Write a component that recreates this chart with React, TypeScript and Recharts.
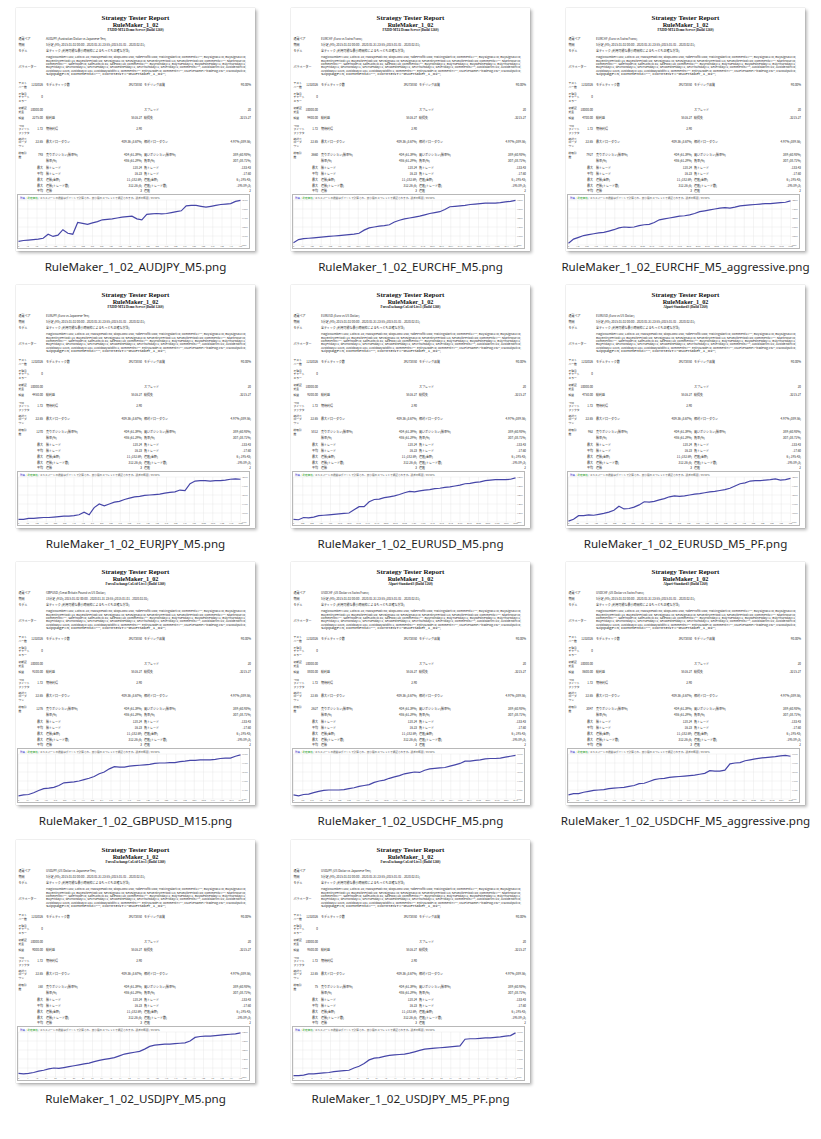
import { LineChart, Line, XAxis, YAxis, CartesianGrid } from "recharts";

// balance curves (evenly spaced samples, left to right)
const audjpyBalance = [
  10000, 10050, 10075, 10100, 10125, 10175, 10400, 10275, 10350, 10650, 10450, 10400, 11050, 11000, 10950, 11025,
  11100, 11200, 11225, 11250, 11300, 11350, 11375, 11400, 11250, 11200, 11500, 11525, 11550, 11525, 11550, 11600,
  11650, 11700, 11975, 12000, 12000, 11950, 11900, 11950, 12000, 12050, 12075, 12100, 12225, 12275,
];
const eurchfBalance = [
  10000, 10700, 10900, 11000, 11100, 11200, 11300, 11400, 11500, 11600, 11700, 11800, 11900, 12100, 12800, 13300,
  13500, 13700, 13800, 14000, 14600, 15000, 15300, 15500, 15700, 15900, 16200, 16500, 16700, 16900, 17400, 18000,
  18100, 18200, 18300, 18500, 18600, 18700, 18800, 18800, 18800, 18900, 19100, 19200, 19400,
];
const eurchfAggrBalance = [
  10000, 10450, 10650, 10850, 10950, 11050, 11150, 11200, 11350, 11500, 11700, 11800, 11750, 11800, 11950, 12050,
  12100, 12300, 12600, 12700, 12800, 12900, 13000, 13050, 13150, 13300, 13500, 13600, 13700, 13800, 13900, 13950,
  13900, 14000, 14150, 14200, 14250, 14300, 14350, 14400, 14400, 14450, 14500, 14550, 14700,
];
const eurjpyBalance = [
  10000, 10000, 10100, 10100, 10150, 10200, 10200, 10250, 10300, 10350, 10350, 10400, 10500, 10800, 10500, 11300,
  11700, 11500, 11700, 11900, 12000, 12200, 12350, 12500, 12550, 12650, 12700, 12750, 12800, 12900, 13000, 13050,
  13250, 13200, 13950, 14250, 14300, 14300, 14250, 14300, 14300, 14350, 14450, 14500, 14450,
];
const eurusdBalance = [
  10000, 9900, 10400, 10300, 10500, 10800, 10900, 11000, 11100, 11200, 11300, 11400, 12100, 12800, 12800, 13900,
  14400, 14500, 14800, 15000, 15200, 15500, 15900, 16200, 16100, 16300, 16500, 16600, 16800, 16900, 17100, 17200,
  17400, 17600, 17900, 18000, 18200, 18300, 18600, 18700, 18800, 18800, 18800, 18900, 19200,
];
const eurusdPfBalance = [
  10000, 10200, 10600, 10600, 10700, 10650, 10750, 10850, 11000, 11200, 11650, 11350, 11400, 11550, 11800, 12150,
  12100, 12200, 12350, 12500, 12700, 12800, 12750, 12800, 12900, 13000, 13050, 13150, 13250, 13300, 13400, 13500,
  13650, 13900, 14150, 14250, 14450, 14500, 14500, 14550, 14600, 14700, 14550, 14600, 14750,
];
const gbpusdBalance = [
  10000, 10200, 10300, 10700, 11200, 11600, 11700, 11900, 12300, 12900, 13000, 13100, 13300, 13600, 13900, 14300,
  14900, 15300, 16000, 16500, 16400, 16400, 16600, 16700, 16800, 16900, 17000, 17200, 17300, 17300, 17400, 17400,
  17600, 17700, 17900, 17900, 18000, 18000, 18000, 18100, 18300, 18400, 18400, 18800, 19100,
];
const usdchfBalance = [
  10000, 9800, 10100, 10200, 10500, 10800, 11000, 11100, 11100, 11100, 11200, 11400, 11600, 11900, 12100, 12300,
  12800, 13100, 13300, 13700, 14000, 14300, 14700, 14900, 15100, 15000, 15500, 15800, 15900, 16000, 16100, 16400,
  16700, 17000, 17500, 17500, 17700, 17800, 18000, 18100, 18100, 18200, 18400, 18600, 18800,
];
const usdchfAggrBalance = [
  10000, 10300, 10300, 10600, 10800, 11000, 11100, 11200, 11400, 11500, 11600, 11700, 11900, 12100, 12500, 12600,
  13000, 13400, 13600, 13700, 13900, 14000, 14100, 14200, 14300, 14400, 14600, 14800, 15400, 15300, 15300, 15500,
  16900, 17100, 17200, 17600, 17800, 18000, 18200, 18300, 18400, 18500, 18700, 18800, 18600,
];
const usdjpyBalance = [
  10000, 9900, 10000, 10200, 10500, 10700, 11000, 11200, 11100, 11300, 11500, 11700, 11900, 12100, 12300, 12600,
  12900, 13100, 13300, 13500, 13900, 14300, 14500, 14700, 14900, 15400, 16000, 16300, 16400, 16500, 16500, 16600,
  16700, 16800, 17200, 18000, 18200, 18300, 18300, 18400, 18500, 18600, 18700, 18800, 19000,
];
const usdjpyPfBalance = [
  10000, 10000, 10100, 10400, 10400, 10500, 10600, 10700, 10900, 11000, 11100, 11200, 11700, 12100, 12700, 13500,
  13900, 14000, 14300, 14500, 14600, 14700, 14800, 15000, 15300, 15600, 15900, 16000, 16100, 16200, 16300, 16400,
  16500, 16600, 18100, 18200, 18200, 18300, 18400, 18400, 18500, 18600, 18800, 18900, 19500,
];

const FXDD = "FXDD-MT4 Demo Server (Build 1260)";
const FXCL = "ForexExchangeCoLtd-Live1 (Build 1260)";
const ALPARI = "Alpari-Standard3 (Build 1260)";

const reports = [
  { file: "RuleMaker_1_02_AUDJPY_M5.png", symbol: "AUDJPY (Australian Dollar vs Japanese Yen)", server: FXDD, tf: "5分足 (M5)", trades: 793, xStep: 32, yTicks: [9800, 10300, 10800, 11300, 11800, 12300], balance: audjpyBalance },
  { file: "RuleMaker_1_02_EURCHF_M5.png", symbol: "EURCHF (Euro vs Swiss Franc)", server: FXDD, tf: "5分足 (M5)", trades: 3660, xStep: 151, yTicks: [9500, 11500, 13500, 15500, 17500, 19500], balance: eurchfBalance },
  { file: "RuleMaker_1_02_EURCHF_M5_aggressive.png", symbol: "EURCHF (Euro vs Swiss Franc)", server: FXDD, tf: "5分足 (M5)", trades: 7927, xStep: 330, yTicks: [9800, 10800, 11800, 12800, 13800, 14800], balance: eurchfAggrBalance },
  { file: "RuleMaker_1_02_EURJPY_M5.png", symbol: "EURJPY (Euro vs Japanese Yen)", server: FXDD, tf: "5分足 (M5)", trades: 1270, xStep: 52, yTicks: [9700, 10700, 11700, 12700, 13700, 14700], balance: eurjpyBalance },
  { file: "RuleMaker_1_02_EURUSD_M5.png", symbol: "EURUSD (Euro vs US Dollar)", server: FXCL, tf: "5分足 (M5)", trades: 5812, xStep: 242, yTicks: [9400, 11400, 13400, 15400, 17400, 19400], balance: eurusdBalance },
  { file: "RuleMaker_1_02_EURUSD_M5_PF.png", symbol: "EURUSD (Euro vs US Dollar)", server: ALPARI, tf: "5分足 (M5)", trades: 962, xStep: 40, yTicks: [9900, 10900, 11900, 12900, 13900, 14900], balance: eurusdPfBalance },
  { file: "RuleMaker_1_02_GBPUSD_M15.png", symbol: "GBPUSD (Great Britain Pound vs US Dollar)", server: FXCL, tf: "15分足 (M15)", trades: 1276, xStep: 53, yTicks: [9300, 11300, 13300, 15300, 17300, 19300], balance: gbpusdBalance },
  { file: "RuleMaker_1_02_USDCHF_M5.png", symbol: "USDCHF (US Dollar vs Swiss Franc)", server: ALPARI, tf: "5分足 (M5)", trades: 2627, xStep: 109, yTicks: [9100, 11100, 13100, 15100, 17100, 19100], balance: usdchfBalance },
  { file: "RuleMaker_1_02_USDCHF_M5_aggressive.png", symbol: "USDCHF (US Dollar vs Swiss Franc)", server: ALPARI, tf: "5分足 (M5)", trades: 3047, xStep: 127, yTicks: [9100, 11100, 13100, 15100, 17100, 19100], balance: usdchfAggrBalance },
  { file: "RuleMaker_1_02_USDJPY_M5.png", symbol: "USDJPY (US Dollar vs Japanese Yen)", server: FXCL, tf: "5分足 (M5)", trades: 168, xStep: 7, yTicks: [9200, 11200, 13200, 15200, 17200, 19200], balance: usdjpyBalance },
  { file: "RuleMaker_1_02_USDJPY_M5_PF.png", symbol: "USDJPY (US Dollar vs Japanese Yen)", server: FXCL, tf: "5分足 (M5)", trades: 75, xStep: 3, yTicks: [9700, 11700, 13700, 15700, 17700, 19700], balance: usdjpyPfBalance },
];

const paramLines = [
  'MagicNumber=102; Lots=0.10; MaxSpread=30; StopLoss=150; TakeProfit=200; TrailingStart=0; comment1=""; BuySignal1=0; BuySignal2=0;',
  'BuyEntryPeriod=14; BuyExitPeriod=20; SellSignal1=0; SellSignal2=0; SellEntryPeriod=14; SellExitPeriod=20; comment2=""; StartHour=0;',
  'comment3=""; SafeMode=0; SafeLots=0.01; SafeDD=10; comment4=""; BuyMonday=1; BuyTuesday=1; BuyWednesday=1; BuyThursday=1;',
  'BuyFriday=1; SellMonday=1; SellTuesday=1; SellWednesday=1; SellThursday=1; SellFriday=1; comment5=""; AvoidStartH=22; AvoidEndH=0;',
  'AvoidDay1=1225; AvoidDay2=101; AvoidDayWidth=1; comment6=""; EntryGrade=0; comment7=""; CSVFileName="tradelog.csv"; CSVOutput=0;',
  'Slippage=3; comment8=""; COMMENT="RuleMaker_1_02";',
];

const CARD_W = 239;
const CARD_H = 243;
const COL_X = [16, 291, 566];
const ROW_Y = [8, 285, 562, 840];
const JP = "'Noto Sans CJK JP', 'Noto Sans', sans-serif";

function T({ x, y, children, anchor = "start", size = 3 }: any) {
  return (
    <text x={x} y={y} fontSize={size} textAnchor={anchor} fill="#2a2a2a" fontFamily={JP}>
      {children}
    </text>
  );
}

function ReportText({ r }: any) {
  const net = (r.balance[r.balance.length - 1] - 10000).toFixed(2);
  // rows: [centerY, col1 label lines, col2, col3, col4, col5, col6]
  const rows: any[] = [
    [77, ["テスト", "バー数"], "1232026", "モデルティック数", "39273850", "モデリング品質", "90.00%"],
    [89, ["不整合", "チャート", "エラー"], "0", "", "", "", ""],
    [102, ["初期証", "拠金"], "10000.00", "", "", "スプレッド", "20"],
    [110, ["純益"], net, "総利益", "5516.27", "総損失", "-3215.27"],
    [121, ["プロ", "フィット", "ファクタ"], "1.72", "期待利得", "2.90", "", ""],
    [134, ["絶対ド", "ローダ", "ウン"], "22.65", "最大ドローダウン", "409.36 (3.67%)", "相対ドローダウン", "4.97% (389.56)"],
    [147, ["総取引", "数"], String(r.trades), "売りポジション(勝率%)", "404 (61.39%)", "買いポジション(勝率%)", "389 (60.93%)"],
    [153, [], "", "勝率(%)", "486 (61.29%)", "負率(%)", "307 (38.71%)"],
    [160, [], "最大", "勝トレード", "128.24", "負トレード", "-133.43"],
    [166, [], "平均", "勝トレード", "16.23", "負トレード", "-17.60"],
    [172, [], "最大", "連勝(金額)", "11 (182.69)", "連敗(金額)", "6 (-195.43)"],
    [178, [], "最大", "連勝(トレード数)", "312.26 (6)", "連敗(トレード数)", "-195.89 (3)"],
    [183, [], "平均", "連勝", "3", "連敗", "2"],
  ];
  return (
    <svg width={CARD_W} height={CARD_H} style={{ position: "absolute", left: 0, top: 0 }}>
      <text x={CARD_W / 2} y={11.6} textAnchor="middle" fontSize={7} fontWeight="bold" fontFamily="'Liberation Serif', serif" fill="#111">
        Strategy Tester Report
      </text>
      <text x={CARD_W / 2} y={18.5} textAnchor="middle" fontSize={6.2} fontWeight="bold" fontFamily="'Liberation Serif', serif" fill="#111">
        RuleMaker_1_02
      </text>
      <text x={CARD_W / 2} y={23.3} textAnchor="middle" fontSize={3.4} fontWeight="bold" fontFamily="'Liberation Serif', serif" fill="#111">
        {r.server}
      </text>
      <T x={2.5} y={32.4}>通貨ペア</T>
      <T x={30} y={32.4}>{r.symbol}</T>
      <T x={2.5} y={38.4}>期間</T>
      <T x={30} y={38.4}>{r.tf} 2015.01.02 00:00 - 2020.01.31 23:55 (2015.01.01 - 2020.02.01)</T>
      <T x={2.5} y={44.4}>モデル</T>
      <T x={30} y={44.4}>全ティック (利用可能な最小時間枠によるもっとも正確な方法)</T>
      <T x={2.5} y={60}>パラメーター</T>
      {paramLines.map((line, i) => (
        <text key={i} x={30} y={50.4 + i * 3.3} fontSize={2.6} fill="#2a2a2a" fontFamily={JP}
          textLength={i === paramLines.length - 1 ? 120 : 200} lengthAdjust="spacingAndGlyphs">
          {line}
        </text>
      ))}
      {rows.map((row, i) => {
        const [cy, lab, c2, c3, c4, c5, c6] = row;
        const y = cy + 1.1;
        const n = lab.length;
        return (
          <g key={i}>
            {lab.map((s: string, k: number) => (
              <T key={k} x={2.5} y={y + (k - (n - 1) / 2) * 3.6} size={2.8}>{s}</T>
            ))}
            <T x={27} y={y} anchor="end">{c2}</T>
            <T x={30} y={y}>{c3}</T>
            <T x={126} y={y} anchor="end">{c4}</T>
            <T x={128} y={y}>{c5}</T>
            <T x={235} y={y} anchor="end">{c6}</T>
          </g>
        );
      })}
    </svg>
  );
}

function EquityChart({ r }: any) {
  const n = r.balance.length;
  const maxX = r.xStep * 24;
  const data = r.balance.map((b: number, i: number) => ({ x: (i * maxX) / (n - 1), balance: b }));
  const xTicks = Array.from({ length: 25 }, (_, k) => k * r.xStep);
  const yTicks = r.yTicks;
  return (
    <div style={{ position: "absolute", left: 1.3, top: 186, width: 233, height: 55, border: "0.6px solid #b8b8b8", boxSizing: "border-box", background: "#fff" }}>
      <svg width={232} height={6} style={{ position: "absolute", left: 0, top: 0 }}>
        <text x={2} y={3.6} fontSize={2.6} fontFamily={JP}>
          <tspan fill="#2b2bc8">残高</tspan>
          <tspan fill="#888"> / </tspan>
          <tspan fill="#1c9c1c">約定価格</tspan>
          <tspan fill="#555"> / エキスパートの損益はポイントで計算され、最小限のスプレッドで検証されます。誤差の範囲 / 99.90%</tspan>
        </text>
      </svg>
      <LineChart width={232} height={54} data={data} margin={{ top: 5, right: 0.5, bottom: 0, left: 0.5 }}>
        <CartesianGrid stroke="#e3e3e3" strokeWidth={0.4} />
        <XAxis
          type="number"
          dataKey="x"
          domain={[0, maxX]}
          ticks={xTicks}
          interval={0}
          height={4}
          tick={{ fontSize: 2.3, fill: "#555" }}
          tickLine={false}
          axisLine={false}
          tickSize={0}
          tickMargin={0.8}
        />
        <YAxis
          orientation="right"
          domain={[yTicks[0], yTicks[yTicks.length - 1]]}
          ticks={yTicks}
          interval={0}
          width={9}
          tick={{ fontSize: 2.4, fill: "#555" }}
          tickLine={false}
          axisLine={false}
          tickSize={0}
          tickMargin={1.2}
        />
        <Line type="linear" dataKey="balance" stroke="#4646a8" strokeWidth={1.2} dot={false} isAnimationActive={false} />
      </LineChart>
    </div>
  );
}

export default function App() {
  return (
    <div style={{ position: "absolute", left: 0, top: 0, width: 821, height: 1139, background: "#fff", overflow: "hidden" }}>
      {reports.map((r, i) => {
        const left = COL_X[i % 3];
        const top = ROW_Y[Math.floor(i / 3)];
        return (
          <div key={r.file}>
            <div
              style={{
                position: "absolute",
                left,
                top,
                width: CARD_W,
                height: CARD_H,
                background: "#fff",
                boxShadow: "0 0 1px rgba(0,0,0,0.3), 2px 2px 3px rgba(0,0,0,0.28)",
              }}
            >
              <ReportText r={r} />
              <EquityChart r={r} />
            </div>
            <div
              style={{
                position: "absolute",
                left: left - 30,
                top: top + 250,
                width: CARD_W + 60,
                textAlign: "center",
                fontFamily: "'Noto Sans', 'Open Sans', sans-serif",
                fontSize: 11.6,
                color: "#1e1e1e",
                lineHeight: "18px",
                whiteSpace: "nowrap",
              }}
            >
              {r.file}
            </div>
          </div>
        );
      })}
    </div>
  );
}
